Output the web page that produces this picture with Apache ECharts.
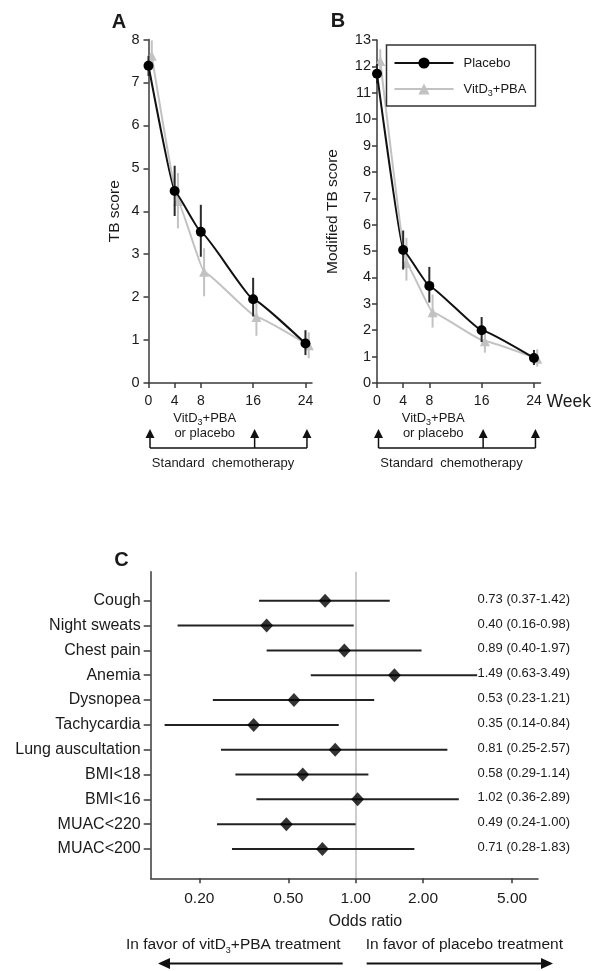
<!DOCTYPE html>
<html>
<head>
<meta charset="utf-8">
<script src="https://cdn.jsdelivr.net/npm/echarts@6/dist/echarts.min.js"></script>
<style>
  html, body { margin: 0; padding: 0; background: #fff; }
  #main { width: 593px; height: 971px; }
</style>
</head>
<body>
<div id="main"></div>
<script>
// weeks of follow-up
var weeks = [0, 4, 8, 16, 24];
var weekTicks = [0, 4, 8, 16, 24];

// panel A - TB score (mean, lower, upper)
var tbPlacebo   = [7.39, 4.47, 3.52, 1.95, 0.92];
var tbPlaceboLo = [7.15, 3.89, 2.94, 1.55, 0.65];
var tbPlaceboHi = [7.62, 5.06, 4.15, 2.45, 1.23];
var tbVit       = [7.62, 4.24, 2.59, 1.54, 0.88];
var tbVitLo     = [7.30, 3.60, 2.02, 1.10, 0.58];
var tbVitHi     = [7.98, 4.89, 3.14, 1.95, 1.18];

// panel B - modified TB score
var mtbPlacebo   = [11.72, 5.04, 3.68, 2.00, 0.95];
var mtbPlaceboLo = [11.35, 4.30, 3.05, 1.55, 0.68];
var mtbPlaceboHi = [12.10, 5.78, 4.40, 2.50, 1.25];
var mtbVit       = [12.20, 4.55, 2.68, 1.58, 0.92];
var mtbVitLo     = [11.80, 3.88, 2.10, 1.15, 0.62];
var mtbVitHi     = [12.65, 5.50, 3.35, 2.05, 1.28];

// panel C - odds ratios with 95% CI
var symptoms = ['Cough', 'Night sweats', 'Chest pain', 'Anemia', 'Dysnopea', 'Tachycardia',
                'Lung auscultation', 'BMI<18', 'BMI<16', 'MUAC<220', 'MUAC<200'];
var oddsRatio = [0.73, 0.40, 0.89, 1.49, 0.53, 0.35, 0.81, 0.58, 1.02, 0.49, 0.71];
var ciLow     = [0.37, 0.16, 0.40, 0.63, 0.23, 0.14, 0.25, 0.29, 0.36, 0.24, 0.28];
var ciHigh    = [1.42, 0.98, 1.97, 3.49, 1.21, 0.84, 2.57, 1.14, 2.89, 1.00, 1.83];
var orTicks = [0.2, 0.5, 1, 2, 5];

var FONT = "'Liberation Sans', Arial, Helvetica, sans-serif";
var INK = '#1a1a1a';
var AXIS = '#3a3a3a';
var GREY = '#c2c2c2';
var vitShift = 0.5;   // vitD points drawn slightly to the right

var chart = echarts.init(document.getElementById('main'));

function pts(ys, shift) {
    return weeks.map(function (w, i) { return [w + shift, ys[i]]; });
}
function errs(lo, hi, shift) {
    return weeks.map(function (w, i) { return [w + shift, lo[i], hi[i]]; });
}
function vBar(color) {
    return function (params, api) {
        var a = api.coord([api.value(0), api.value(1)]);
        var b = api.coord([api.value(0), api.value(2)]);
        return {
            type: 'line',
            shape: {x1: a[0], y1: a[1], x2: b[0], y2: b[1]},
            style: {stroke: color, lineWidth: 2}
        };
    };
}
var subRich = {s: {fontSize: 9, lineHeight: 9, verticalAlign: 'bottom', fontFamily: FONT}};

function weekAxis(gi) {
    return {
        type: 'value', gridIndex: gi, min: 0, max: 25,
        axisLine: {show: true, onZero: false, lineStyle: {color: AXIS, width: 1.5}},
        axisTick: {show: true, customValues: weekTicks, length: 5, lineStyle: {color: AXIS, width: 1.5}},
        axisLabel: {customValues: weekTicks, fontSize: 14, color: INK, fontFamily: FONT, margin: 11},
        splitLine: {show: false}
    };
}
function scoreAxis(gi, max, name, gap, margin) {
    return {
        type: 'value', gridIndex: gi, min: 0, max: max, interval: 1,
        name: name, nameLocation: 'middle', nameGap: gap,
        nameTextStyle: {fontSize: 15.5, color: INK, fontFamily: FONT},
        axisLine: {show: true, onZero: false, lineStyle: {color: AXIS, width: 1.5}},
        axisTick: {show: true, length: 5, lineStyle: {color: AXIS, width: 1.5}},
        axisLabel: {fontSize: 14.5, color: INK, fontFamily: FONT, margin: margin},
        splitLine: {show: false}
    };
}

function panelSeries(ax, pl, plLo, plHi, vit, vitLo, vitHi) {
    return [
        {
            name: 'vit err ' + ax, type: 'custom', xAxisIndex: ax, yAxisIndex: ax,
            renderItem: vBar(GREY), data: errs(vitLo, vitHi, vitShift), z: 2
        },
        {
            name: 'VitD3+PBA', type: 'line', xAxisIndex: ax, yAxisIndex: ax,
            data: pts(vit, vitShift), smooth: 0.1, smoothMonotone: 'x',
            symbol: 'triangle', symbolSize: 10,
            itemStyle: {color: GREY}, lineStyle: {color: GREY, width: 2}, z: 3
        },
        {
            name: 'placebo err ' + ax, type: 'custom', xAxisIndex: ax, yAxisIndex: ax,
            renderItem: vBar('#2a2a2a'), data: errs(plLo, plHi, 0), z: 4
        },
        {
            name: 'Placebo', type: 'line', xAxisIndex: ax, yAxisIndex: ax,
            data: pts(pl, 0), smooth: 0.1, smoothMonotone: 'x',
            symbol: 'circle', symbolSize: 10,
            itemStyle: {color: '#000'}, lineStyle: {color: '#111', width: 2}, z: 5
        }
    ];
}

var rows = symptoms.map(function (s, i) { return i; });
var log = function (v) { return Math.log10(v); };

var option = {
    animation: false,
    backgroundColor: '#fff',
    textStyle: {fontFamily: FONT},
    grid: [
        {left: 148.5, top: 39.5, width: 163.5, height: 343.5, outerBoundsMode: 'none'},
        {left: 377, top: 40, width: 163.5, height: 343, outerBoundsMode: 'none'},
        {left: 150.7, top: 571.7, width: 387.3, height: 306.6, outerBoundsMode: 'none'}
    ],
    xAxis: [
        weekAxis(0),
        weekAxis(1),
        {
            type: 'value', gridIndex: 2, min: log(0.1213), max: log(6.53),
            name: 'Odds ratio', nameLocation: 'middle', nameGap: 35,
            nameTextStyle: {fontSize: 16, color: INK, fontFamily: FONT, padding: [0, 0, 0, 42]},
            axisLine: {show: true, onZero: false, lineStyle: {color: AXIS, width: 1.5}},
            axisTick: {show: true, customValues: orTicks.map(log), length: 5, lineStyle: {color: AXIS, width: 1.5}},
            axisLabel: {
                customValues: orTicks.map(log), fontSize: 15.5, color: INK, fontFamily: FONT, margin: 12,
                formatter: function (v) { return Math.pow(10, v).toFixed(2); }
            },
            splitLine: {show: false}
        }
    ],
    yAxis: [
        scoreAxis(0, 8, 'TB score', 26, 9),
        scoreAxis(1, 13, 'Modified TB score', 36, 6),
        {
            type: 'value', gridIndex: 2, inverse: true, min: -1.17, max: 11.18,
            axisLine: {show: true, onZero: false, lineStyle: {color: AXIS, width: 1.5}},
            axisTick: {show: true, customValues: rows, length: 7, lineStyle: {color: AXIS, width: 1.5}},
            axisLabel: {
                customValues: rows, fontSize: 16, color: INK, fontFamily: FONT, margin: 10,
                formatter: function (v) { return symptoms[v]; }
            },
            splitLine: {show: false}
        }
    ],
    legend: {
        data: ['Placebo', 'VitD3+PBA'],
        orient: 'vertical', left: 386.5, top: 45,
        itemWidth: 59, itemHeight: 14, itemGap: 8,
        padding: [9, 9, 8, 7],
        borderColor: '#333', borderWidth: 1.5, borderRadius: 0,
        selectedMode: false,
        textStyle: {fontSize: 13, color: INK, fontFamily: FONT, lineHeight: 18, padding: [0, 0, 0, 5], rich: subRich},
        formatter: function (n) { return n === 'VitD3+PBA' ? 'VitD{s|3}+PBA' : n; }
    },
    series: [].concat(
        panelSeries(0, tbPlacebo, tbPlaceboLo, tbPlaceboHi, tbVit, tbVitLo, tbVitHi),
        panelSeries(1, mtbPlacebo, mtbPlaceboLo, mtbPlaceboHi, mtbVit, mtbVitLo, mtbVitHi),
        [
            {
                name: 'CI', type: 'custom', xAxisIndex: 2, yAxisIndex: 2,
                data: rows.map(function (i) { return [log(ciLow[i]), log(ciHigh[i]), i]; }),
                renderItem: function (params, api) {
                    var a = api.coord([api.value(0), api.value(2)]);
                    var b = api.coord([api.value(1), api.value(2)]);
                    return {
                        type: 'line',
                        shape: {x1: a[0], y1: a[1], x2: b[0], y2: b[1]},
                        style: {stroke: '#222', lineWidth: 2}
                    };
                },
                z: 3
            },
            {
                name: 'OR', type: 'scatter', xAxisIndex: 2, yAxisIndex: 2,
                data: rows.map(function (i) { return [log(oddsRatio[i]), i]; }),
                symbol: 'diamond', symbolSize: [13, 14],
                itemStyle: {color: '#000'}, z: 4,
                markLine: {
                    silent: true, symbol: 'none', label: {show: false},
                    lineStyle: {color: '#bdbdbd', width: 1.5, type: 'solid'},
                    data: [{xAxis: 0}], z: 1
                }
            },
            {
                name: 'OR text', type: 'custom', xAxisIndex: 2, yAxisIndex: 2,
                data: rows.map(function (i) { return [i, oddsRatio[i], ciLow[i], ciHigh[i]]; }),
                renderItem: function (params, api) {
                    var y = api.coord([0, api.value(0)])[1];
                    var cs = params.coordSys;
                    return {
                        type: 'text', x: cs.x + cs.width + 32, y: y - 1.5,
                        style: {
                            text: api.value(1).toFixed(2) + ' (' + api.value(2).toFixed(2) + '-' + api.value(3).toFixed(2) + ')',
                            align: 'right', verticalAlign: 'middle',
                            fontSize: 13, fontFamily: FONT, fill: INK
                        }
                    };
                },
                z: 5
            }
        ]
    )
};

chart.setOption(option);

// annotations below panels A and B, positioned from the axes
function txt(x, y, text, size, extra) {
    var st = {text: text, fontSize: size, fontFamily: FONT, fill: INK, align: 'center', verticalAlign: 'middle'};
    for (var k in extra) st[k] = extra[k];
    return {type: 'text', x: x, y: y, style: st, silent: true};
}
function upArrow(x, tipY, baseY) {
    return [
        {type: 'line', shape: {x1: x, y1: tipY + 6, x2: x, y2: baseY}, style: {stroke: '#111', lineWidth: 1.5}},
        {type: 'polygon', shape: {points: [[x, tipY], [x - 4.5, tipY + 9], [x + 4.5, tipY + 9]]}, style: {fill: '#111'}}
    ];
}
function panelNotes(ax) {
    var px = function (w) { return chart.convertToPixel({xAxisIndex: ax}, w); };
    var els = [];
    [0, 16, 24].forEach(function (w) {
        els = els.concat(upArrow(px(w) + 1.5, 429, 448));
    });
    els.push({type: 'line', shape: {x1: px(0) + 1.5, y1: 448, x2: px(24) + 1.5, y2: 448}, style: {stroke: '#111', lineWidth: 1.5}});
    els.push(txt(px(8.6), 418, 'VitD{s|3}+PBA', 13, {rich: subRich, lineHeight: 18}));
    els.push(txt(px(8.6), 433, 'or placebo', 13));
    els.push(txt(px(11.4), 463, 'Standard  chemotherapy', 13));
    return els;
}

var gx = chart.convertToPixel({xAxisIndex: 1}, 24);
var oneX = chart.convertToPixel({xAxisIndex: 2}, 0);
var graphics = [].concat(
    panelNotes(0),
    panelNotes(1),
    [
        txt(119, 22, 'A', 20, {fontWeight: 'bold'}),
        txt(338, 21, 'B', 20, {fontWeight: 'bold'}),
        txt(121.5, 560, 'C', 20, {fontWeight: 'bold'}),
        txt(gx + 12.5, 401.7, 'Week', 17.5, {align: 'left'}),
        txt(oneX - 15, 945, 'In favor of vitD{s|3}+PBA treatment', 15.5, {align: 'right', rich: subRich, lineHeight: 20}),
        txt(oneX + 10, 945, 'In favor of placebo treatment', 15.5, {align: 'left'}),
        {type: 'line', shape: {x1: oneX - 13, y1: 963.5, x2: 166, y2: 963.5}, style: {stroke: '#111', lineWidth: 2}},
        {type: 'polygon', shape: {points: [[158, 963.5], [170, 958], [170, 969]]}, style: {fill: '#111'}},
        {type: 'line', shape: {x1: oneX + 11, y1: 963.5, x2: 545, y2: 963.5}, style: {stroke: '#111', lineWidth: 2}},
        {type: 'polygon', shape: {points: [[553, 963.5], [541, 958], [541, 969]]}, style: {fill: '#111'}}
    ]
);
chart.setOption({graphic: graphics});
</script>
</body>
</html>
